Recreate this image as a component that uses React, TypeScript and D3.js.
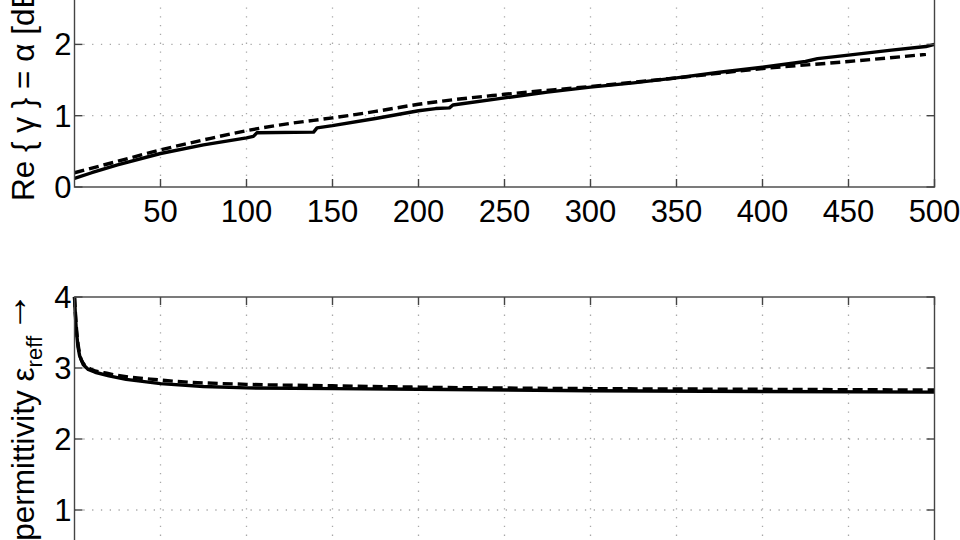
import { useEffect, useRef } from "react";
import * as d3 from "d3";

// top panel: attenuation
const alphaMeasX = [0, 10, 25, 50, 75, 100, 104, 106, 139, 141, 150, 175, 200, 210, 218, 220, 250, 275, 300, 325, 350, 375, 400, 425, 432, 450, 475, 495, 500];
const alphaMeasY = [0.12, 0.2, 0.31, 0.47, 0.59, 0.69, 0.71, 0.76, 0.77, 0.83, 0.86, 0.96, 1.07, 1.1, 1.11, 1.15, 1.25, 1.33, 1.4, 1.46, 1.53, 1.61, 1.68, 1.76, 1.8, 1.85, 1.92, 1.97, 2.0];
const alphaSimX = [0, 25, 50, 75, 100, 125, 150, 175, 200, 250, 300, 350, 400, 450, 495];
const alphaSimY = [0.2, 0.36, 0.52, 0.66, 0.79, 0.89, 0.97, 1.06, 1.16, 1.3, 1.41, 1.53, 1.66, 1.76, 1.86];

// bottom panel: effective permittivity
const epsMeasX = [0, 0.5, 1, 2, 3, 5, 8, 12, 20, 30, 50, 75, 100, 150, 200, 300, 400, 500];
const epsMeasY = [4.0, 3.75, 3.55, 3.3, 3.17, 3.05, 2.98, 2.94, 2.89, 2.84, 2.78, 2.74, 2.72, 2.71, 2.7, 2.68, 2.67, 2.66];
const epsSimX = [0, 1, 3, 5, 10, 20, 50, 100, 150, 200, 300, 400, 500];
const epsSimY = [4.0, 3.6, 3.2, 3.07, 2.98, 2.92, 2.83, 2.77, 2.75, 2.73, 2.71, 2.7, 2.69];

const xTicks = [50, 100, 150, 200, 250, 300, 350, 400, 450, 500];
const yTicks = [0, 1, 2, 3, 4];

const font = "'Liberation Sans', Arial, Helvetica, sans-serif";

export default function App() {
  const svgRef = useRef<SVGSVGElement>(null);

  useEffect(() => {
    if (!svgRef.current) return;
    const svg = d3.select(svgRef.current);
    svg.selectAll("*").remove();

    const left = 74.5;
    const right = 934.5;
    const x = d3.scaleLinear().domain([0, 500]).range([left, right]);

    const drawPanel = (
      y: d3.ScaleLinear<number, number>,
      solidX: number[],
      solidY: number[],
      dashX: number[],
      dashY: number[],
      showXLabels: boolean
    ) => {
      const g = svg.append("g");
      const [yb, yt] = y.range();

      // grid
      xTicks.slice(0, -1).forEach((t) => {
        g.append("line")
          .attr("x1", x(t)).attr("x2", x(t))
          .attr("y1", yt).attr("y2", yb)
          .attr("stroke", "#a8a8a8").attr("stroke-width", 1.3)
          .attr("stroke-dasharray", "1.3,7.5");
      });
      yTicks.slice(1, -1).forEach((t) => {
        g.append("line")
          .attr("x1", left).attr("x2", right)
          .attr("y1", y(t)).attr("y2", y(t))
          .attr("stroke", "#a8a8a8").attr("stroke-width", 1.3)
          .attr("stroke-dasharray", "1.3,7.5");
      });

      // data
      const solid = d3.line<number>()
        .x((_, i) => x(solidX[i]))
        .y((d) => y(d));
      const dashed = d3.line<number>()
        .x((_, i) => x(dashX[i]))
        .y((d) => y(d))
        .curve(d3.curveMonotoneX);

      g.append("path")
        .attr("d", dashed(dashY))
        .attr("fill", "none").attr("stroke", "#000")
        .attr("stroke-width", 3.4).attr("stroke-dasharray", "10,5");
      g.append("path")
        .attr("d", solid(solidY))
        .attr("fill", "none").attr("stroke", "#000")
        .attr("stroke-width", 3.4).attr("stroke-linejoin", "round");

      // frame
      g.append("rect")
        .attr("x", left).attr("y", yt)
        .attr("width", right - left).attr("height", yb - yt)
        .attr("fill", "none").attr("stroke", "#444").attr("stroke-width", 1.4);

      // ticks (inward, all sides)
      xTicks.forEach((t) => {
        g.append("line").attr("x1", x(t)).attr("x2", x(t)).attr("y1", yb).attr("y2", yb - 8)
          .attr("stroke", "#444").attr("stroke-width", 1.4);
        g.append("line").attr("x1", x(t)).attr("x2", x(t)).attr("y1", yt).attr("y2", yt + 8)
          .attr("stroke", "#444").attr("stroke-width", 1.4);
      });
      yTicks.forEach((t) => {
        g.append("line").attr("x1", left).attr("x2", left + 8).attr("y1", y(t)).attr("y2", y(t))
          .attr("stroke", "#444").attr("stroke-width", 1.4);
        g.append("line").attr("x1", right).attr("x2", right - 8).attr("y1", y(t)).attr("y2", y(t))
          .attr("stroke", "#444").attr("stroke-width", 1.4);
      });

      // tick labels
      yTicks.forEach((t) => {
        g.append("text")
          .attr("x", left - 3)
          .attr("y", y(t) + 11)
          .attr("text-anchor", "end")
          .attr("font-family", font)
          .attr("font-size", 31)
          .attr("fill", "#000")
          .text(t);
      });
      if (showXLabels) {
        xTicks.forEach((t) => {
          g.append("text")
            .attr("x", x(t))
            .attr("y", yb + 35)
            .attr("text-anchor", "middle")
            .attr("font-family", font)
            .attr("font-size", 31)
            .attr("fill", "#000")
            .text(t);
        });
      }
      return g;
    };

    const yTop = d3.scaleLinear().domain([0, 4]).range([187, 187 - 4 * 71.3]);
    const yBot = d3.scaleLinear().domain([0, 4]).range([581, 297]);

    drawPanel(yTop, alphaMeasX, alphaMeasY, alphaSimX, alphaSimY, true);
    drawPanel(yBot, epsMeasX, epsMeasY, epsSimX, epsSimY, false);

    // y labels
    svg.append("text")
      .attr("transform", "translate(34,201) rotate(-90)")
      .attr("text-anchor", "start")
      .attr("font-family", font)
      .attr("font-size", 31.5)
      .attr("fill", "#000")
      .text("Re { γ } = α [dB/m] →");

    const lbl = svg.append("text")
      .attr("transform", "translate(34,292) rotate(-90)")
      .attr("text-anchor", "end")
      .attr("font-family", font)
      .attr("font-size", 31.5)
      .attr("fill", "#000");
    lbl.append("tspan").text("permittivity ε");
    lbl.append("tspan").attr("font-size", 22).attr("dy", 8).text("reff");
    lbl.append("tspan").attr("dy", -15).attr("dx", 4).attr("font-size", 40).text("→");
  }, []);

  return (
    <div style={{ position: "absolute", left: 0, top: 0, width: 960, height: 540, background: "#fff" }}>
      <svg ref={svgRef} width={960} height={540} />
    </div>
  );
}
